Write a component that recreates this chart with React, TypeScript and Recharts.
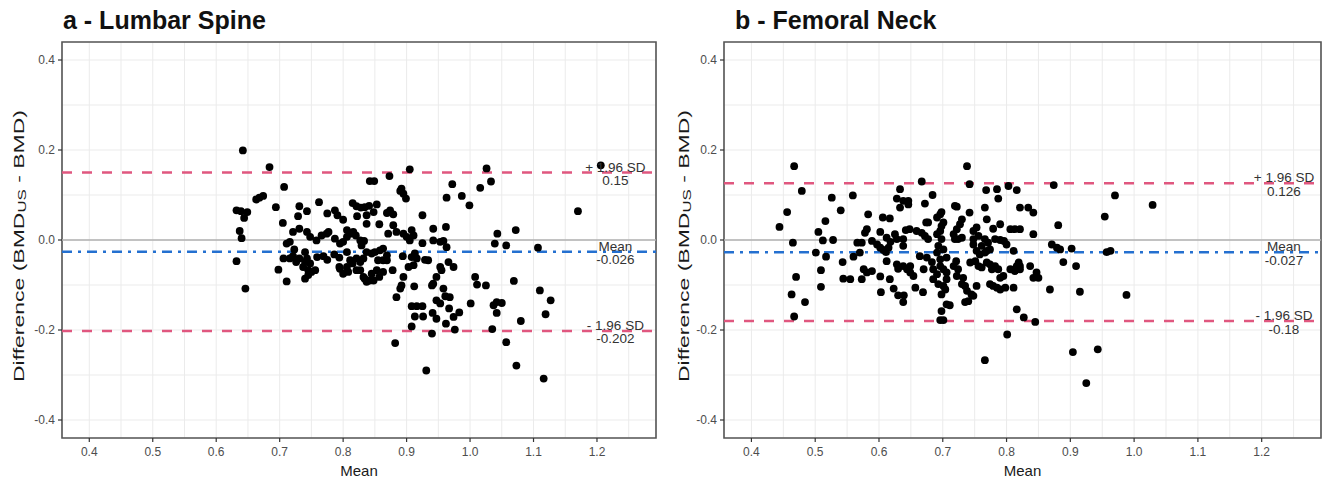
import React from 'react';
import { ScatterChart, Scatter, XAxis, YAxis, CartesianGrid, ReferenceLine, ReferenceArea, ReferenceDot } from 'recharts';

// axis ticks (minor ones only draw grid lines)
const xTicks = [0.4, 0.45, 0.5, 0.55, 0.6, 0.65, 0.7, 0.75, 0.8, 0.85, 0.9, 0.95, 1.0, 1.05, 1.1, 1.15, 1.2, 1.25];
const xMajor = [0.4, 0.5, 0.6, 0.7, 0.8, 0.9, 1.0, 1.1, 1.2];
const yTicks = [-0.4, -0.3, -0.2, -0.1, 0, 0.1, 0.2, 0.3, 0.4];
const yMajor = [-0.4, -0.2, 0, 0.2, 0.4];
const xDomain = [0.357, 1.293];
const yDomain = [-0.44, 0.44];

const limitNames = ['+ 1.96 SD', 'Mean', '- 1.96 SD'];

// a - Lumbar Spine
const lumbarLimits = [0.15, -0.026, -0.202];
const lumbarLimitText = ['0.15', '-0.026', '-0.202'];
const lumbarMean = [
  0.632, 0.639, 0.649, 0.644, 0.637, 0.640, 0.632, 0.642, 0.646,
  0.684, 0.905, 0.931, 0.882,
  1.206, 1.026, 1.033, 1.016, 0.987, 0.999, 1.170, 1.043, 1.039, 1.057, 1.072, 1.107, 1.069, 1.110, 1.127,
  1.119, 1.080, 1.008, 1.011, 1.025, 1.001, 1.037, 1.042, 1.050, 1.042, 1.035, 1.057, 1.073, 1.116,
  0.842, 0.849, 0.873, 0.972, 0.892, 0.890, 0.895, 0.899, 0.963, 0.707,
  0.663, 0.668, 0.674, 0.694, 0.762, 0.731, 0.743, 0.729, 0.705, 0.775,
  0.787, 0.791, 0.800, 0.815, 0.821, 0.828, 0.834, 0.841, 0.853, 0.848,
  0.837, 0.822, 0.869, 0.879, 0.874, 0.857, 0.837, 0.879, 0.884, 0.871,
  0.895, 0.925, 0.942, 0.962, 0.908, 0.911, 0.905, 0.900, 0.925, 0.942,
  0.953, 0.958, 0.963, 0.721, 0.731, 0.743, 0.748, 0.758, 0.766, 0.774,
  0.777, 0.716, 0.711, 0.723, 0.787, 0.795, 0.800, 0.806, 0.811, 0.806,
  0.816, 0.820, 0.827, 0.833, 0.829, 0.837, 0.845, 0.850, 0.858, 0.863,
  0.869, 0.863, 0.855, 0.832, 0.827, 0.821, 0.806, 0.811, 0.815, 0.806,
  0.795, 0.800, 0.808, 0.821, 0.827, 0.786, 0.794, 0.775, 0.794, 0.769,
  0.759, 0.740, 0.743, 0.740, 0.748, 0.737, 0.745, 0.750, 0.756, 0.745,
  0.740, 0.731, 0.726, 0.706, 0.716, 0.721, 0.698, 0.711, 0.832, 0.837,
  0.842, 0.845, 0.853, 0.857, 0.848, 0.834, 0.869, 0.878, 0.863, 0.894,
  0.903, 0.911, 0.908, 0.913, 0.916, 0.895, 0.892, 0.890, 0.884, 0.912,
  0.929, 0.934, 0.953, 0.955, 0.947, 0.942, 0.940, 0.966, 0.974, 0.958,
  0.961, 0.968, 0.947, 0.953, 0.908, 0.916, 0.925, 0.913, 0.926, 0.908,
  0.941, 0.940, 0.947, 0.962, 0.967, 0.974, 0.976, 0.983,
];
const lumbarDiff = [
  0.066, 0.064, 0.062, 0.049, 0.020, 0.004, -0.047, 0.199, -0.108,
  0.162, 0.157, -0.290, -0.229,
  0.166, 0.159, 0.130, 0.116, 0.098, 0.077, 0.064, 0.014, -0.008, -0.012, 0.022, -0.017, -0.091, -0.112, -0.134,
  -0.165, -0.180, -0.082, -0.099, -0.101, -0.141, -0.145, -0.138, -0.140, -0.162, -0.198, -0.227, -0.279, -0.308,
  0.131, 0.131, 0.142, 0.124, 0.114, 0.109, 0.103, 0.092, 0.094, 0.118,
  0.090, 0.094, 0.098, 0.073, 0.084, 0.075, 0.064, 0.053, 0.038, 0.059,
  0.066, 0.055, 0.045, 0.082, 0.075, 0.072, 0.073, 0.076, 0.079, 0.062,
  0.055, 0.053, 0.060, 0.057, 0.066, 0.035, 0.036, 0.033, 0.018, 0.014,
  0.014, 0.055, 0.025, 0.029, 0.022, 0.010, -0.001, 0.007, -0.007, -0.001,
  -0.004, -0.002, -0.016, 0.018, 0.025, 0.018, 0.007, -0.001, 0.010, 0.014,
  0.018, -0.004, -0.008, -0.021, 0.003, -0.008, -0.004, 0.022, 0.014, 0.007,
  0.018, 0.010, -0.001, -0.002, -0.012, -0.027, -0.030, -0.027, -0.023, -0.019,
  -0.034, -0.045, -0.045, -0.041, -0.049, -0.041, -0.027, -0.045, -0.052, -0.060,
  -0.064, -0.075, -0.071, -0.067, -0.067, -0.032, -0.039, -0.044, -0.060, -0.036,
  -0.038, -0.027, -0.041, -0.049, -0.052, -0.060, -0.067, -0.071, -0.067, -0.078,
  -0.086, -0.041, -0.049, -0.041, -0.041, -0.036, -0.066, -0.092, -0.082, -0.093,
  -0.090, -0.075, -0.067, -0.082, -0.090, -0.086, -0.045, -0.067, -0.071, -0.036,
  -0.060, -0.056, -0.038, -0.030, -0.041, -0.082, -0.101, -0.108, -0.127, -0.103,
  -0.044, -0.045, -0.060, -0.067, -0.082, -0.097, -0.101, -0.049, -0.060, -0.108,
  -0.125, -0.127, -0.134, -0.141, -0.147, -0.147, -0.147, -0.170, -0.170, -0.192,
  -0.162, -0.208, -0.175, -0.186, -0.152, -0.171, -0.199, -0.161,
];

// b - Femoral Neck
const femoralLimits = [0.126, -0.027, -0.18];
const femoralLimitText = ['0.126', '-0.027', '-0.18'];
const femoralMean = [
  0.467, 0.456, 0.444, 0.465, 0.470, 0.463, 0.467,
  0.738, 0.766,
  0.874, 0.970, 1.029, 0.954, 0.881, 0.871, 0.879, 0.884, 0.902, 0.957,
  0.963, 0.889, 0.909, 0.868, 0.915, 0.988, 0.904, 0.943, 0.925,
  0.479, 0.526, 0.559, 0.540, 0.516, 0.505, 0.512, 0.528, 0.501, 0.517,
  0.509, 0.509, 0.484, 0.543, 0.544, 0.555, 0.560, 0.570, 0.566, 0.573,
  0.583, 0.581, 0.578, 0.589, 0.597, 0.602, 0.607, 0.611, 0.615, 0.618,
  0.625, 0.628, 0.612, 0.602, 0.606, 0.617, 0.633, 0.628, 0.638, 0.646,
  0.633, 0.646, 0.667, 0.684, 0.672, 0.642, 0.648, 0.638, 0.638, 0.576,
  0.581, 0.573, 0.589, 0.602, 0.612, 0.617, 0.603, 0.623, 0.630, 0.638,
  0.639, 0.628, 0.630, 0.638, 0.644, 0.649, 0.649, 0.654, 0.657, 0.669,
  0.670, 0.664, 0.675, 0.683, 0.659, 0.667, 0.672, 0.677, 0.674, 0.677,
  0.691, 0.696, 0.698, 0.701, 0.691, 0.696, 0.698, 0.719, 0.722, 0.742,
  0.730, 0.727, 0.722, 0.717, 0.719, 0.724, 0.730, 0.698, 0.693, 0.701,
  0.691, 0.706, 0.696, 0.685, 0.691, 0.696, 0.701, 0.706, 0.685, 0.693,
  0.701, 0.706, 0.698, 0.704, 0.706, 0.711, 0.698, 0.696, 0.701, 0.721,
  0.717, 0.724, 0.722, 0.732, 0.730, 0.735, 0.738, 0.745, 0.748, 0.740,
  0.748, 0.753, 0.748, 0.756, 0.761, 0.748, 0.753, 0.758, 0.766, 0.742,
  0.768, 0.766, 0.769, 0.785, 0.787, 0.803, 0.816, 0.790, 0.779, 0.766,
  0.771, 0.774, 0.769, 0.782, 0.790, 0.796, 0.800, 0.811, 0.743, 0.751,
  0.756, 0.761, 0.769, 0.774, 0.777, 0.782, 0.787, 0.790, 0.795, 0.753,
  0.774, 0.779, 0.785, 0.790, 0.798, 0.811, 0.806, 0.816, 0.819, 0.813,
  0.821, 0.806, 0.813, 0.821, 0.821, 0.834, 0.842, 0.842, 0.842, 0.847,
  0.850, 0.837, 0.821, 0.816, 0.827, 0.845, 0.801, 0.735,
];
const femoralDiff = [
  0.164, 0.062, 0.029, -0.006, -0.082, -0.121, -0.170,
  0.164, -0.267,
  0.122, 0.099, 0.078, 0.052, 0.033, -0.010, -0.017, -0.021, -0.019, -0.027,
  -0.024, -0.049, -0.058, -0.110, -0.115, -0.122, -0.249, -0.243, -0.318,
  0.109, 0.094, 0.099, 0.066, 0.042, 0.018, -0.001, 0.000, -0.028, -0.037,
  -0.067, -0.104, -0.138, -0.049, -0.086, -0.087, -0.037, -0.028, -0.006, -0.006,
  0.057, 0.024, 0.016, -0.002, -0.010, -0.017, -0.022, -0.027, -0.017, -0.004,
  0.013, 0.002, 0.005, 0.018, 0.050, 0.048, 0.113, 0.092, 0.087, 0.079,
  0.072, 0.087, 0.130, 0.100, 0.081, 0.022, 0.024, 0.002, -0.013, -0.065,
  -0.072, -0.087, -0.069, -0.081, -0.047, -0.087, -0.116, -0.108, -0.123, -0.138,
  -0.123, -0.054, -0.064, -0.058, -0.065, -0.072, -0.058, -0.080, -0.106, -0.116,
  -0.065, -0.036, -0.039, -0.049, 0.020, 0.016, 0.009, 0.002, 0.039, 0.039,
  0.013, 0.020, 0.031, 0.039, 0.050, 0.057, 0.062, 0.076, 0.074, 0.061,
  0.046, 0.035, 0.024, 0.013, 0.002, 0.002, 0.005, 0.002, -0.013, -0.021,
  -0.028, -0.039, -0.043, -0.065, -0.076, -0.058, -0.065, -0.072, -0.087, -0.098,
  -0.102, -0.087, -0.121, -0.110, -0.143, -0.145, -0.158, -0.178, -0.178, -0.047,
  -0.058, -0.065, -0.080, -0.084, -0.098, -0.102, -0.113, -0.121, -0.124, -0.136,
  0.020, 0.028, 0.002, 0.009, -0.013, -0.010, -0.024, -0.032, -0.028, 0.124,
  0.111, 0.072, 0.046, 0.113, 0.092, 0.120, 0.111, 0.035, 0.025, 0.002,
  -0.006, -0.021, -0.024, 0.002, 0.000, -0.002, -0.010, -0.024, -0.050, -0.047,
  -0.058, -0.061, -0.050, -0.054, -0.065, -0.058, -0.065, -0.084, -0.080, -0.102,
  -0.098, -0.102, -0.106, -0.110, -0.106, -0.106, -0.065, -0.058, -0.050, -0.069,
  -0.065, 0.024, 0.024, 0.024, 0.072, 0.072, 0.061, 0.013, -0.084, -0.072,
  -0.084, -0.058, -0.058, -0.154, -0.172, -0.182, -0.210, -0.138,
];

const FONT = '"Liberation Sans", Arial, sans-serif';
const PINK = '#e0577f';
const BLUE = '#2470d0';

const isIn = (list: number[], v: number) => list.some(m => Math.abs(m - v) < 1e-6);

const XTick = (p: any) => {
  const v = p.payload.value;
  if (!isIn(xMajor, v)) return <g />;
  return (
    <g>
      <line x1={p.x} x2={p.x} y1={p.y} y2={p.y + 4} stroke="#333" strokeWidth={1.2} />
      <text x={p.x} y={p.y + 18} textAnchor="middle" fontSize={12} fill="#4d4d4d" fontFamily={FONT}>
        {v.toFixed(1)}
      </text>
    </g>
  );
};

const YTick = (p: any) => {
  const v = p.payload.value;
  if (!isIn(yMajor, v)) return <g />;
  return (
    <g>
      <line x1={p.x - 4} x2={p.x} y1={p.y} y2={p.y} stroke="#333" strokeWidth={1.2} />
      <text x={p.x - 7} y={p.y + 4} textAnchor="end" fontSize={12} fill="#4d4d4d" fontFamily={FONT}>
        {v.toFixed(1)}
      </text>
    </g>
  );
};

// the y title in the picture is stretched along its length
const YTitle = (p: any) => {
  const vb = p.viewBox || { x: 0, y: 0, width: 0, height: 0 };
  const cx = vb.x - p.dx;
  const cy = vb.y + vb.height / 2 + 6;
  return (
    <text x={cx} y={cy} transform={`rotate(-90, ${cx}, ${cy})`} textAnchor="middle" dominantBaseline="central"
      fontSize={15} fill="#1a1a1a" fontFamily={FONT} textLength={272} lengthAdjust="spacingAndGlyphs">
      Difference (BMD<tspan dy={4} fontSize={11}>US</tspan><tspan dy={-4}> - BMD)</tspan>
    </text>
  );
};

const XTitle = (p: any) => {
  const vb = p.viewBox || { x: 0, y: 0, width: 0, height: 0 };
  return (
    <text x={vb.x + vb.width / 2} y={vb.y + 38} textAnchor="middle" fontSize={15} fill="#1a1a1a" fontFamily={FONT}>
      Mean
    </text>
  );
};

const makeLimitLabel = (name: string, value: string) => (p: any) => {
  const vb = p.viewBox || { x: 0, y: 0 };
  return (
    <text x={vb.x} y={vb.y} textAnchor="middle" fontSize={13.5} fill="#333" fontFamily={FONT}>
      <tspan x={vb.x} dy={-1}>{name}</tspan>
      <tspan x={vb.x} dy={13.5}>{value}</tspan>
    </text>
  );
};

const Dot = (p: any) => <circle cx={p.cx} cy={p.cy} r={3.9} fill="#000" />;

interface PanelProps {
  title: string;
  titleLeft: number;
  left: number;
  width: number;
  marginRight: number;
  yTitleDx: number;
  labelX: number;
  means: number[];
  diffs: number[];
  limits: number[];
  limitText: string[];
}

function Panel({ title, titleLeft, left, width, marginRight, yTitleDx, labelX, means, diffs, limits, limitText }: PanelProps) {
  const data = means.map((m, i) => ({ x: m, y: diffs[i] }));
  return (
    <div style={{ position: 'absolute', left, top: 0, width, height: 482 }}>
      <div style={{ position: 'absolute', left: titleLeft, top: 8, fontFamily: FONT, fontWeight: 'bold', fontSize: 25, lineHeight: '25px', color: '#111', whiteSpace: 'nowrap' }}>
        {title}
      </div>
      <ScatterChart width={width} height={482} margin={{ top: 42, right: marginRight, bottom: 0, left: 22 }}>
        <CartesianGrid stroke="#ebebeb" strokeWidth={1} />
        <XAxis type="number" dataKey="x" domain={xDomain} allowDataOverflow ticks={xTicks} interval={0}
          tick={<XTick />} tickLine={false} axisLine={false} tickSize={0} tickMargin={0} height={44}
          label={<XTitle />} />
        <YAxis type="number" dataKey="y" domain={yDomain} allowDataOverflow ticks={yTicks} interval={0}
          tick={<YTick />} tickLine={false} axisLine={false} tickSize={0} tickMargin={0} width={40}
          label={<YTitle dx={yTitleDx} />} />
        <ReferenceLine y={0} stroke="#b0b0b0" strokeWidth={1.3} />
        <ReferenceLine y={limits[0]} stroke={PINK} strokeWidth={2.5} strokeDasharray="10 10" />
        <ReferenceLine y={limits[1]} stroke={BLUE} strokeWidth={2.5} strokeDasharray="10 6 3 6" />
        <ReferenceLine y={limits[2]} stroke={PINK} strokeWidth={2.5} strokeDasharray="10 10" />
        <ReferenceArea x1={xDomain[0]} x2={xDomain[1]} y1={yDomain[0]} y2={yDomain[1]} fill="none" fillOpacity={0}
          stroke="#555" strokeWidth={1.6} ifOverflow="visible" />
        <Scatter data={data} shape={Dot} isAnimationActive={false} />
        {limits.map((v, i) => (
          <ReferenceDot key={i} x={labelX} y={v} r={0} fill="none" stroke="none"
            label={makeLimitLabel(limitNames[i], limitText[i])} />
        ))}
      </ScatterChart>
    </div>
  );
}

export default function App() {
  return (
    <div style={{ position: 'absolute', left: 0, top: 0, width: 1325, height: 482, background: '#fff', overflow: 'hidden' }}>
      <Panel title="a - Lumbar Spine" titleLeft={63} left={0} width={662} marginRight={6} yTitleDx={4}
        labelX={1.229} means={lumbarMean} diffs={lumbarDiff} limits={lumbarLimits} limitText={lumbarLimitText} />
      <Panel title="b - Femoral Neck" titleLeft={73} left={662} width={663} marginRight={4} yTitleDx={1}
        labelX={1.235} means={femoralMean} diffs={femoralDiff} limits={femoralLimits} limitText={femoralLimitText} />
    </div>
  );
}
